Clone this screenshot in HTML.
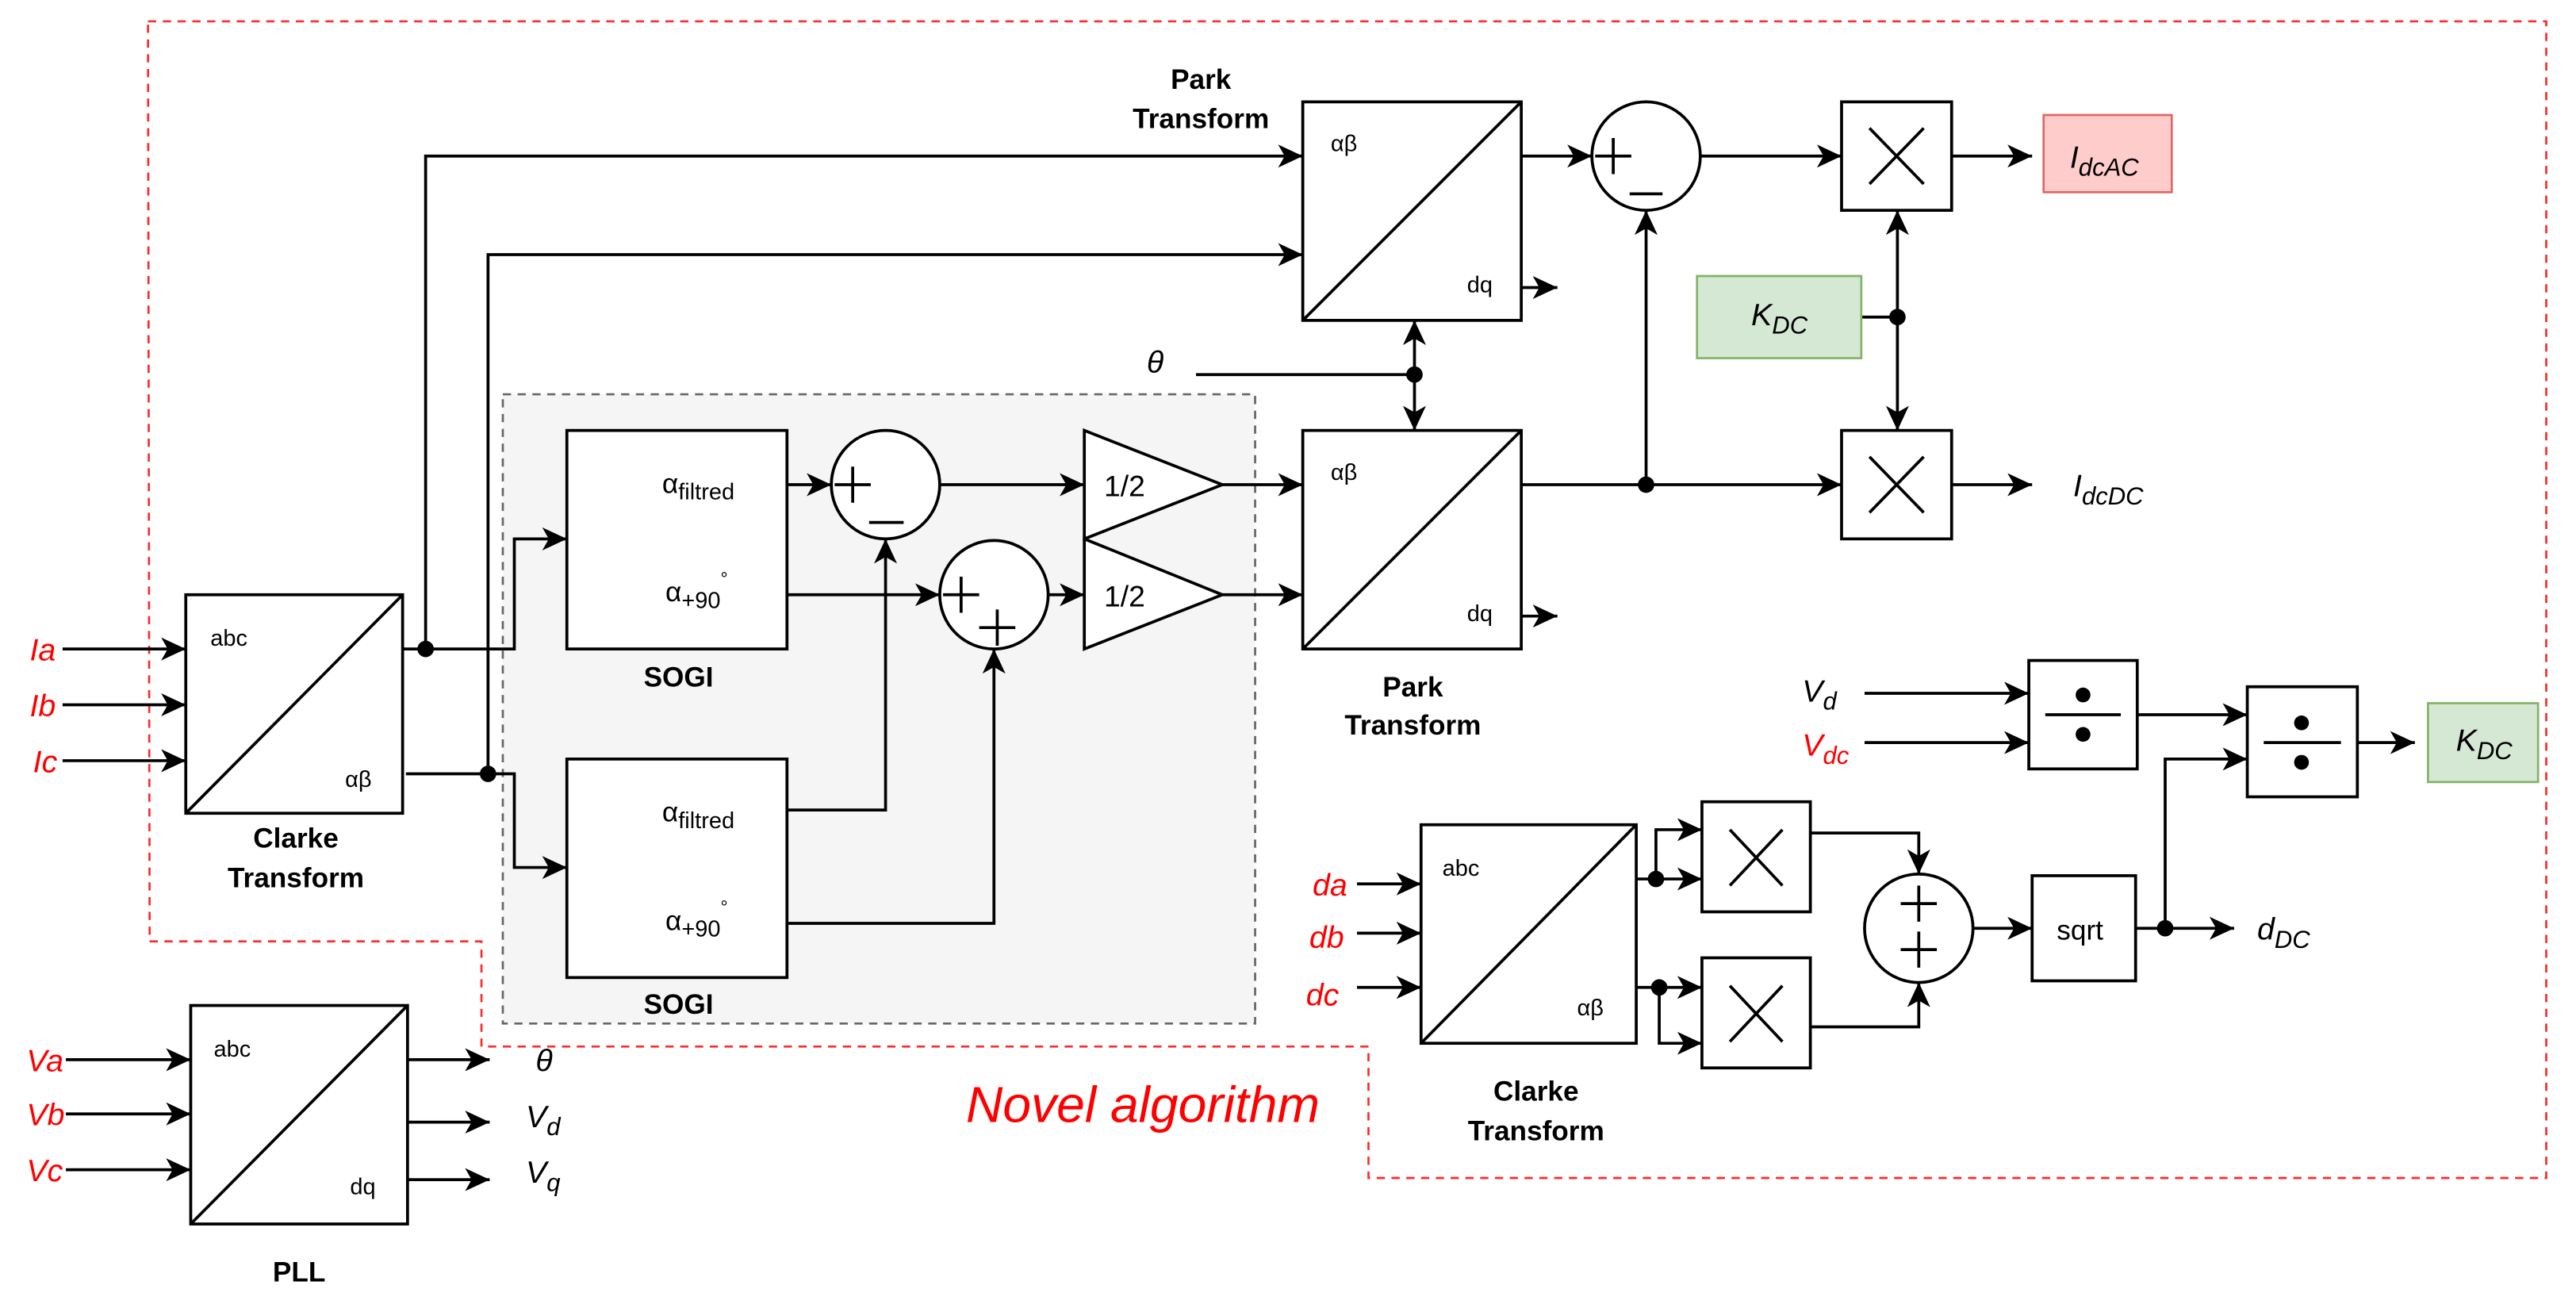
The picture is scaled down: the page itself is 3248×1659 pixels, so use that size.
<!DOCTYPE html>
<html><head><meta charset="utf-8"><style>html,body{margin:0;padding:0;background:#fff}svg{display:block}</style></head>
<body>
<svg width="3248" height="1659" viewBox="0 0 1568 801" xmlns="http://www.w3.org/2000/svg" font-family="Liberation Sans, Arial, sans-serif">
<defs>
<marker id="a" markerUnits="userSpaceOnUse" markerWidth="16" markerHeight="16" viewBox="0 0 16 16" refX="15" refY="8" orient="auto">
<path d="M0,1 L15,8 L0,15 L4,8 Z" fill="#000"/></marker>
</defs>
<rect width="1568" height="801" fill="#fff"/>
<path d="M90,13 L1550,13 L1550,717 L833,717 L833,637 L293,637 L293,573 L91,573 Z" fill="none" stroke="#ff2a2a" stroke-width="1.3" stroke-dasharray="5,4"/>
<text x="588" y="683" font-size="31" font-style="italic" fill="#ff0000">Novel algorithm</text>
<rect x="306" y="240" width="458" height="383" fill="#f5f5f5" stroke="#666" stroke-width="1.3" stroke-dasharray="5,4"/>

<g stroke="#000" stroke-width="1.8" fill="none">
<rect x="113" y="362" width="132" height="133" fill="#fff"/><line x1="113" y1="495" x2="245" y2="362"/>
<rect x="116" y="612" width="132" height="133" fill="#fff"/><line x1="116" y1="745" x2="248" y2="612"/>
<rect x="345" y="262" width="134" height="133" fill="#fff"/>
<rect x="345" y="462" width="134" height="133" fill="#fff"/>
<circle cx="539" cy="295" r="33" fill="#fff"/>
<circle cx="605" cy="362" r="33" fill="#fff"/>
<circle cx="1002" cy="95" r="33" fill="#fff"/>
<circle cx="1168" cy="565" r="33" fill="#fff"/>
<path d="M660,262 L744,295 L660,328 Z" fill="#fff"/>
<path d="M660,328 L744,362 L660,395 Z" fill="#fff"/>
<rect x="793" y="62" width="133" height="133" fill="#fff"/><line x1="793" y1="195" x2="926" y2="62"/>
<rect x="793" y="262" width="133" height="133" fill="#fff"/><line x1="793" y1="395" x2="926" y2="262"/>
<rect x="1121" y="62" width="67" height="66" fill="#fff"/><path d="M1138,78 L1171,112 M1171,78 L1138,112"/>
<rect x="1121" y="262" width="67" height="66" fill="#fff"/><path d="M1138,278 L1171,312 M1171,278 L1138,312"/>
<rect x="1036" y="488" width="66" height="67" fill="#fff"/><path d="M1053,505 L1085,539 M1085,505 L1053,539"/>
<rect x="1036" y="583" width="66" height="67" fill="#fff"/><path d="M1053,600 L1085,634 M1085,600 L1053,634"/>
<rect x="865" y="502" width="131" height="133" fill="#fff"/><line x1="865" y1="635" x2="996" y2="502"/>
<rect x="1235" y="402" width="66" height="66" fill="#fff"/><line x1="1245" y1="435" x2="1291" y2="435"/>
<rect x="1368" y="418" width="67" height="67" fill="#fff"/><line x1="1378" y1="452" x2="1425" y2="452"/>
<rect x="1237" y="533" width="63" height="64" fill="#fff"/>
<path d="M508,295 H530 M519,284 V306 M529,318 H550"/>
<path d="M574,362 H596 M585,351 V373 M596,382 H618 M607,371 V393"/>
<path d="M971,95 H993 M982,84 V106 M992,118 H1012"/>
<path d="M1157,550 H1179 M1168,539 V561 M1157,578 H1179 M1168,567 V589"/>

<path d="M38,395 H113" marker-end="url(#a)"/>
<path d="M38,429 H113" marker-end="url(#a)"/>
<path d="M38,463 H113" marker-end="url(#a)"/>
<path d="M245,395 H313 V328 H345" marker-end="url(#a)"/>
<path d="M259,395 V95 H793" marker-end="url(#a)"/>
<path d="M247,471 H313 V528 H345" marker-end="url(#a)"/>
<path d="M297,471 V155 H793" marker-end="url(#a)"/>
<path d="M479,295 H506" marker-end="url(#a)"/>
<path d="M572,295 H660" marker-end="url(#a)"/>
<path d="M479,362 H572" marker-end="url(#a)"/>
<path d="M638,362 H660" marker-end="url(#a)"/>
<path d="M479,493 H539 V328" marker-end="url(#a)"/>
<path d="M479,562 H605 V395" marker-end="url(#a)"/>
<path d="M744,295 H793" marker-end="url(#a)"/>
<path d="M744,362 H793" marker-end="url(#a)"/>
<path d="M926,175 H948" marker-end="url(#a)"/>
<path d="M926,375 H948" marker-end="url(#a)"/>
<path d="M728,228 H861"/>
<path d="M861,228 V195" marker-end="url(#a)"/>
<path d="M861,228 V262" marker-end="url(#a)"/>
<path d="M926,95 H969" marker-end="url(#a)"/>
<path d="M1035,95 H1121" marker-end="url(#a)"/>
<path d="M1188,95 H1237" marker-end="url(#a)"/>
<path d="M926,295 H1121" marker-end="url(#a)"/>
<path d="M1002,295 V128" marker-end="url(#a)"/>
<path d="M1188,295 H1237" marker-end="url(#a)"/>
<path d="M1133,193 H1155"/>
<path d="M1155,193 V128" marker-end="url(#a)"/>
<path d="M1155,193 V262" marker-end="url(#a)"/>
<path d="M1135,422 H1235" marker-end="url(#a)"/>
<path d="M1135,452 H1235" marker-end="url(#a)"/>
<path d="M1301,435 H1368" marker-end="url(#a)"/>
<path d="M1318,565 V462 H1368" marker-end="url(#a)"/>
<path d="M1435,452 H1470" marker-end="url(#a)"/>
<path d="M826,538 H865" marker-end="url(#a)"/>
<path d="M826,568 H865" marker-end="url(#a)"/>
<path d="M826,601 H865" marker-end="url(#a)"/>
<path d="M996,535 H1036" marker-end="url(#a)"/>
<path d="M1008,535 V505 H1036" marker-end="url(#a)"/>
<path d="M996,601 H1036" marker-end="url(#a)"/>
<path d="M1010,601 V635 H1036" marker-end="url(#a)"/>
<path d="M1102,507 H1168 V532" marker-end="url(#a)"/>
<path d="M1102,625 H1168 V598" marker-end="url(#a)"/>
<path d="M1201,565 H1237" marker-end="url(#a)"/>
<path d="M1300,565 H1360" marker-end="url(#a)"/>
<path d="M40,645 H116" marker-end="url(#a)"/>
<path d="M40,678 H116" marker-end="url(#a)"/>
<path d="M40,712 H116" marker-end="url(#a)"/>
<path d="M248,645 H298" marker-end="url(#a)"/>
<path d="M248,683 H298" marker-end="url(#a)"/>
<path d="M248,718 H298" marker-end="url(#a)"/>
</g>
<g fill="#000">
<circle cx="259" cy="395" r="5"/><circle cx="297" cy="471" r="5"/>
<circle cx="861" cy="228" r="5"/><circle cx="1002" cy="295" r="5"/>
<circle cx="1155" cy="193" r="5"/><circle cx="1008" cy="535" r="5"/>
<circle cx="1010" cy="601" r="5"/><circle cx="1318" cy="565" r="5"/>
<circle cx="1268" cy="423" r="4.5"/><circle cx="1268" cy="447" r="4.5"/>
<circle cx="1401" cy="440" r="4.5"/><circle cx="1401" cy="464" r="4.5"/>
</g>
<rect x="1244" y="70" width="78" height="47" fill="#ffcccc" stroke="#e06666" stroke-width="1.3"/>
<rect x="1033" y="168" width="100" height="50" fill="#d5e8d4" stroke="#82b366" stroke-width="1.3"/>
<rect x="1478" y="428" width="67" height="48" fill="#d5e8d4" stroke="#82b366" stroke-width="1.3"/>

<g font-size="14" fill="#000">
<text x="128" y="393">abc</text><text x="210" y="479">αβ</text>
<text x="130" y="643">abc</text><text x="213" y="727">dq</text>
<text x="810" y="92">αβ</text><text x="893" y="178">dq</text>
<text x="810" y="292">αβ</text><text x="893" y="378">dq</text>
<text x="878" y="533">abc</text><text x="960" y="618">αβ</text>
</g>
<g font-size="17" fill="#000">
<text x="403" y="300">α<tspan font-size="14" dy="4">filtred</tspan></text>
<text x="405" y="366">α<tspan font-size="14" dy="4">+90</tspan><tspan font-size="11" dy="-14">°</tspan></text>
<text x="403" y="500">α<tspan font-size="14" dy="4">filtred</tspan></text>
<text x="405" y="566">α<tspan font-size="14" dy="4">+90</tspan><tspan font-size="11" dy="-14">°</tspan></text>
<text x="672" y="302" font-size="18">1/2</text><text x="672" y="369" font-size="18">1/2</text>
<text x="1252" y="572">sqrt</text>
</g>
<g font-size="17" font-weight="bold" fill="#000" text-anchor="middle">
<text x="731" y="54">Park</text><text x="731" y="78">Transform</text>
<text x="860" y="424">Park</text><text x="860" y="447">Transform</text>
<text x="180" y="516">Clarke</text><text x="180" y="540">Transform</text>
<text x="935" y="670">Clarke</text><text x="935" y="694">Transform</text>
<text x="413" y="418">SOGI</text><text x="413" y="617">SOGI</text>
<text x="182" y="780">PLL</text>
</g>
<g font-size="19" font-style="italic" fill="#ff0000">
<text x="18" y="402">Ia</text><text x="18" y="436">Ib</text><text x="20" y="470">Ic</text>
<text x="16" y="652">Va</text><text x="16" y="685">Vb</text><text x="16" y="719">Vc</text>
<text x="799" y="545">da</text><text x="797" y="577">db</text><text x="795" y="612">dc</text>
<text x="1097" y="460">V<tspan font-size="15" dy="5">dc</tspan></text>
</g>
<g font-size="19" font-style="italic" fill="#000">
<text x="698" y="227">θ</text>
<text x="326" y="652">θ</text>
<text x="320" y="686">V<tspan font-size="15" dy="5">d</tspan></text>
<text x="320" y="720">V<tspan font-size="15" dy="5">q</tspan></text>
<text x="1097" y="427">V<tspan font-size="15" dy="5">d</tspan></text>
<text x="1260" y="102">I<tspan font-size="15" dy="5">dcAC</tspan></text>
<text x="1262" y="302">I<tspan font-size="15" dy="5">dcDC</tspan></text>
<text x="1066" y="198">K<tspan font-size="15" dy="5">DC</tspan></text>
<text x="1495" y="457">K<tspan font-size="15" dy="5">DC</tspan></text>
<text x="1374" y="572">d<tspan font-size="15" dy="5">DC</tspan></text>
</g>
</svg>
</body></html>
